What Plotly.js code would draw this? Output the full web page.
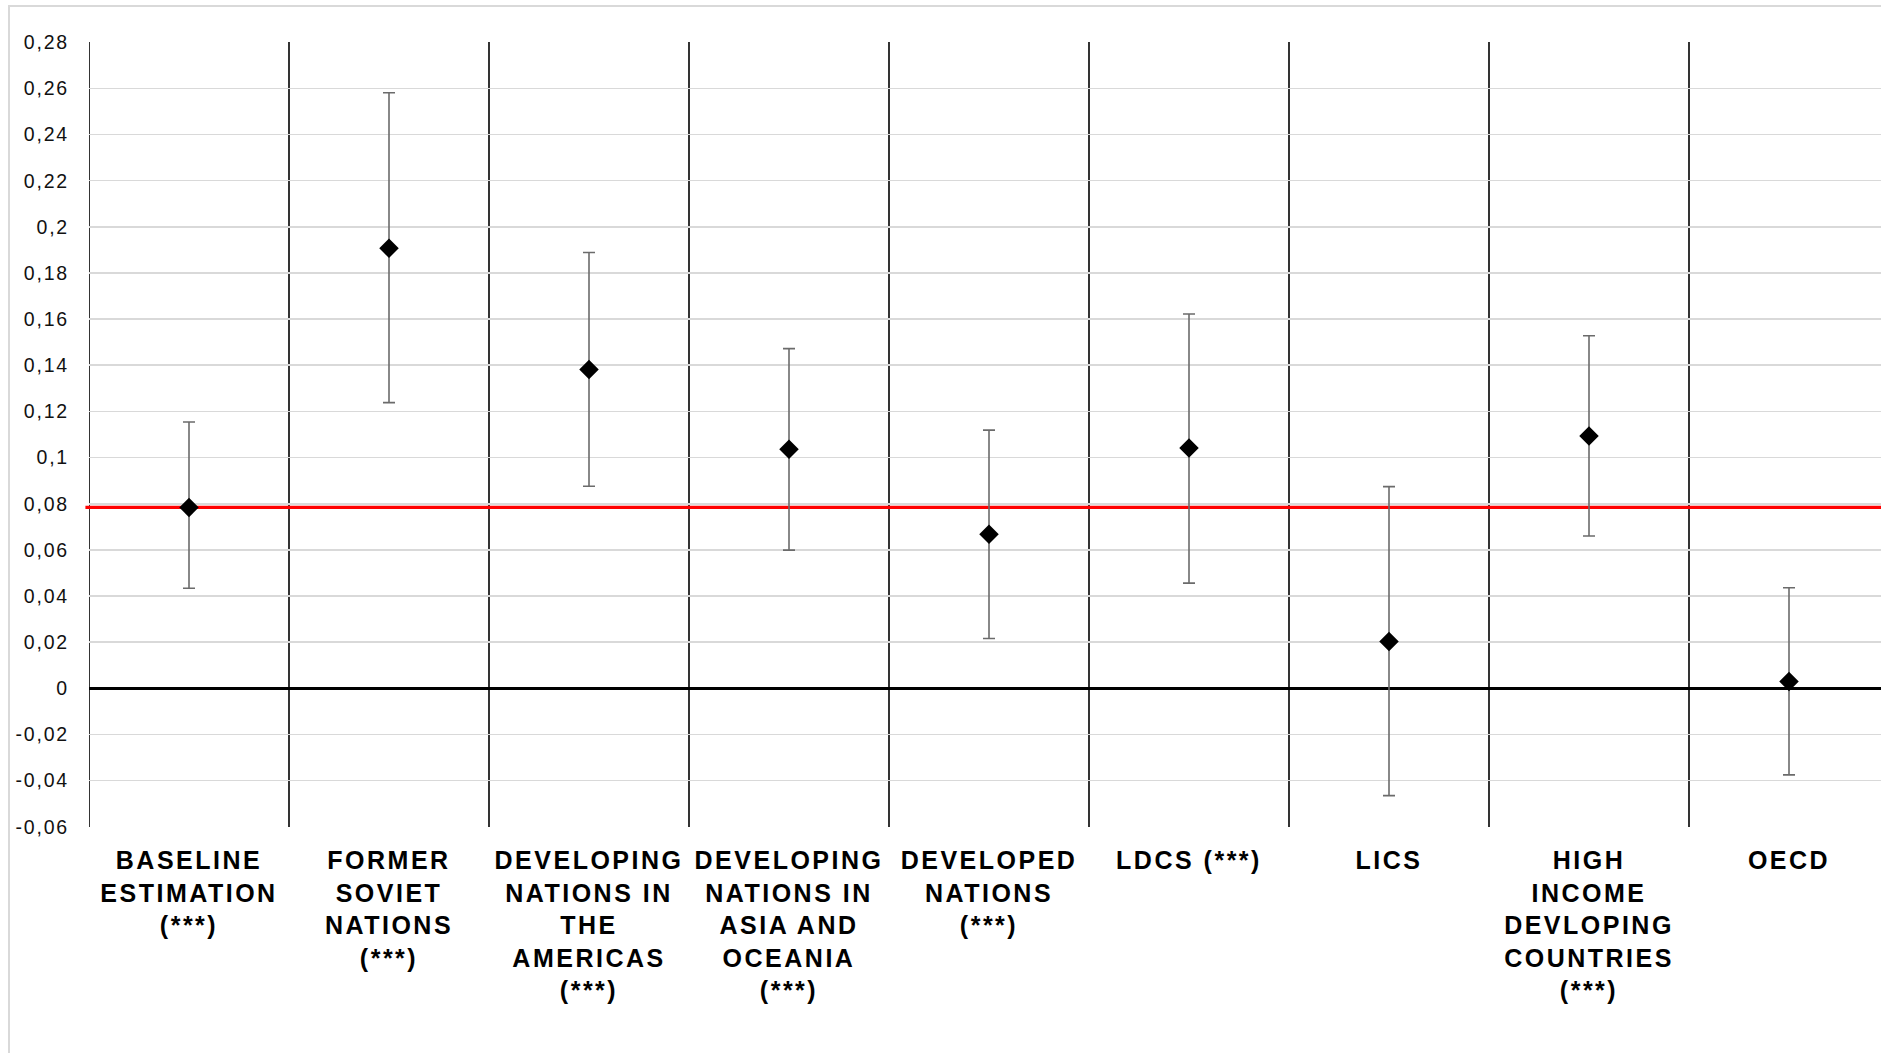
<!DOCTYPE html>
<html>
<head>
<meta charset="utf-8">
<script src="https://cdn.plot.ly/plotly-3.0.1.min.js"></script>
<style>
  html, body { margin: 0; padding: 0; background: #ffffff; overflow: hidden; }
  #chart { position: absolute; left: 0; top: 0; width: 1881px; height: 1053px; }
  #frame { position: absolute; left: 8px; top: 5px; width: 2000px; height: 1200px;
           border: 2px solid #d9d9d9; pointer-events: none; z-index: 5; }
  #chart .xtick text { letter-spacing: 2.5px; }
  #chart .ytick text { letter-spacing: 1.8px; }
</style>
</head>
<body>
<div id="frame"></div>
<div id="chart"></div>
<script>
// ---- data ----
const categories = [
  "BASELINE<br>ESTIMATION<br>(***)",
  "FORMER<br>SOVIET<br>NATIONS<br>(***)",
  "DEVELOPING<br>NATIONS IN<br>THE<br>AMERICAS<br>(***)",
  "DEVELOPING<br>NATIONS IN<br>ASIA AND<br>OCEANIA<br>(***)",
  "DEVELOPED<br>NATIONS<br>(***)",
  "LDCS (***)",
  "LICS",
  "HIGH<br>INCOME<br>DEVLOPING<br>COUNTRIES<br>(***)",
  "OECD"
];
const estimates = [0.0784, 0.1907, 0.1382, 0.1036, 0.0668, 0.1042, 0.0203, 0.1094, 0.0030];
const upperCI   = [0.1154, 0.2581, 0.1889, 0.1472, 0.1119, 0.1622, 0.0874, 0.1528, 0.0436];
const lowerCI   = [0.0434, 0.1238, 0.0876, 0.0599, 0.0216, 0.0456, -0.0465, 0.0660, -0.0375];
const yTickVals = [-0.06, -0.04, -0.02, 0, 0.02, 0.04, 0.06, 0.08, 0.10, 0.12, 0.14, 0.16, 0.18, 0.20, 0.22, 0.24, 0.26, 0.28];
const yTickText = ["-0,06", "-0,04", "-0,02", "0", "0,02", "0,04", "0,06", "0,08", "0,1", "0,12", "0,14", "0,16", "0,18", "0,2", "0,22", "0,24", "0,26", "0,28"];

// ---- derived ----
const xIdx = categories.map((_, i) => i);
const errPlus = estimates.map((v, i) => upperCI[i] - v);
const errMinus = estimates.map((v, i) => v - lowerCI[i]);
const baselineValue = estimates[0];

const shapes = [];
for (let i = 0; i < categories.length; i++) {
  shapes.push({
    type: 'line', xref: 'x', yref: 'paper',
    x0: i - 0.5, x1: i - 0.5, y0: 0, y1: 1,
    line: { color: '#000000', width: 1.6 }, layer: 'between'
  });
}
shapes.push({
  type: 'line', xref: 'paper', yref: 'y',
  x0: -0.002, x1: 1, y0: baselineValue, y1: baselineValue,
  line: { color: '#ff0000', width: 3.2 }, layer: 'between'
});

const trace = {
  type: 'scatter', mode: 'markers',
  x: xIdx, y: estimates,
  marker: { symbol: 'diamond', size: 15, color: '#000000' },
  error_y: {
    type: 'data', symmetric: false,
    array: errPlus, arrayminus: errMinus,
    color: '#6b6b6b', thickness: 1.6, width: 6
  },
  hoverinfo: 'skip',
  cliponaxis: false
};

const layout = {
  width: 1881, height: 1053,
  margin: { l: 89, r: 0, t: 42, b: 226, pad: 0 },
  paper_bgcolor: '#ffffff', plot_bgcolor: '#ffffff',
  showlegend: false,
  xaxis: {
    range: [-0.5, 8.46],
    tickmode: 'array', tickvals: xIdx, ticktext: categories,
    showgrid: false, zeroline: false, showline: false,
    ticks: '', ticklabelstandoff: 16,
    tickangle: 0,
    tickfont: { family: 'Liberation Sans, Arial, sans-serif', size: 25, color: '#000000', weight: 'bold' },
    fixedrange: true
  },
  yaxis: {
    range: [-0.0601, 0.2801],
    tickmode: 'array', tickvals: yTickVals, ticktext: yTickText,
    showgrid: true, gridcolor: '#d9d9d9', gridwidth: 1.6,
    zeroline: true, zerolinecolor: '#000000', zerolinewidth: 3.5,
    showline: false, ticks: '', ticklabelstandoff: 19,
    tickfont: { family: 'Liberation Sans, Arial, sans-serif', size: 19.5, color: '#111111' },
    fixedrange: true
  },
  shapes: shapes
};

Plotly.newPlot('chart', [trace], layout, { displayModeBar: false, staticPlot: true });
</script>
</body>
</html>
